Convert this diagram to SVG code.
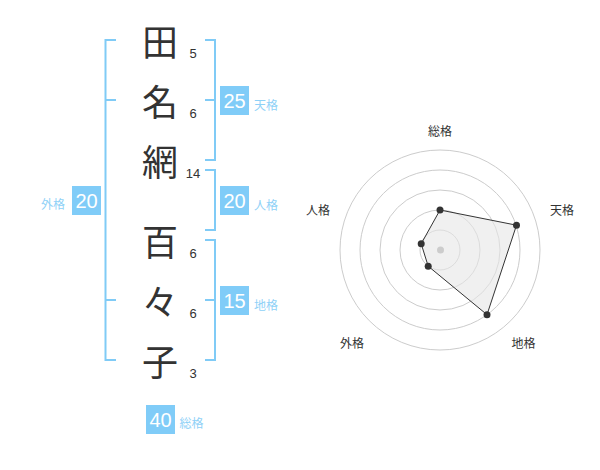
<svg xmlns="http://www.w3.org/2000/svg" width="600" height="470" viewBox="0 0 600 470">
<style>
.ch{font-family:"Noto Sans CJK JP","Noto Sans CJK SC",sans-serif;font-size:36px;fill:#333;text-anchor:middle;dominant-baseline:central}
.num{font-family:"Liberation Sans",Arial,sans-serif;font-size:13px;fill:#333;text-anchor:middle}
.br{fill:none;stroke:#80cbf6;stroke-width:2}
.box{fill:#80ccf8}
.bt{font-family:"Liberation Sans",Arial,sans-serif;font-size:20px;fill:#fff;text-anchor:middle;dominant-baseline:central}
.lb{font-family:"Noto Sans CJK JP","Noto Sans CJK SC",sans-serif;font-size:12px;fill:#8fd1f7;dominant-baseline:central}
.rl{font-family:"Noto Sans CJK JP","Noto Sans CJK SC",sans-serif;font-size:12px;fill:#333;text-anchor:middle;dominant-baseline:central}
.ring{fill:none;stroke:#ccc;stroke-width:1}
.pt{fill:#333}
</style>
<g id="chars">
<g id="c1"><text class="ch" x="160" y="40">田</text><text class="num" x="193" y="57.5">5</text></g>
<g id="c2"><text class="ch" x="160" y="100">名</text><text class="num" x="193" y="117.5">6</text></g>
<g id="c3"><text class="ch" x="160" y="160">網</text><text class="num" x="193" y="177.5">14</text></g>
<g id="c4"><text class="ch" x="160" y="240">百</text><text class="num" x="193" y="257.5">6</text></g>
<g id="c5"><text class="ch" x="160" y="300">々</text><text class="num" x="193" y="317.5">6</text></g>
<g id="c6"><text class="ch" x="160" y="360">子</text><text class="num" x="193" y="377.5">3</text></g>
</g>
<g id="connectors">
<path class="br" d="M116,40 H105.5 V360 H116 M105.5,100 H116 M105.5,300 H116"/>
<path class="br" d="M205,40 H215 V160 H205 M215,100 H205"/>
<path class="br" d="M205,170 H215 V230 H205"/>
<path class="br" d="M205,240 H215 V360 H205 M215,300 H205"/>
</g>
<g id="tenkaku"><rect class="box" x="220" y="86" width="29" height="29"/><text class="bt" x="234.5" y="101">25</text><text class="lb" x="254" y="104">天格</text></g>
<g id="jinkaku"><rect class="box" x="220" y="186" width="29" height="29"/><text class="bt" x="234.5" y="201">20</text><text class="lb" x="254" y="204">人格</text></g>
<g id="chikaku"><rect class="box" x="220" y="286" width="29" height="29"/><text class="bt" x="234.5" y="301">15</text><text class="lb" x="254" y="304">地格</text></g>
<g id="gaikaku"><rect class="box" x="72" y="186" width="29" height="29"/><text class="bt" x="86.5" y="201">20</text><text class="lb" x="41" y="203">外格</text></g>
<g id="soukaku"><rect class="box" x="146" y="405" width="29" height="29"/><text class="bt" x="160.5" y="420">40</text><text class="lb" x="179.5" y="422">総格</text></g>
<g id="radar">
<circle class="ring" cx="440" cy="250" r="20"/>
<circle class="ring" cx="440" cy="250" r="40"/>
<circle class="ring" cx="440" cy="250" r="60"/>
<circle class="ring" cx="440" cy="250" r="80"/>
<circle class="ring" cx="440" cy="250" r="100"/>
<polygon points="440,210 516.5,225.2 487,314.7 428.2,266.2 421.2,243.8" fill="#e6e6e6" fill-opacity="0.6" stroke="#333" stroke-width="1"/>
<circle cx="440.5" cy="250" r="3.5" fill="#ccc"/>
<circle class="pt" cx="440" cy="210" r="3.5"/>
<circle class="pt" cx="516.5" cy="225.2" r="3.5"/>
<circle class="pt" cx="487" cy="314.7" r="3.5"/>
<circle class="pt" cx="428.2" cy="266.2" r="3.5"/>
<circle class="pt" cx="421.2" cy="243.8" r="3.5"/>
<text class="rl" x="440" y="130">総格</text>
<text class="rl" x="562" y="209">天格</text>
<text class="rl" x="523.5" y="342">地格</text>
<text class="rl" x="352" y="342">外格</text>
<text class="rl" x="318" y="209">人格</text>
</g>
</svg>
